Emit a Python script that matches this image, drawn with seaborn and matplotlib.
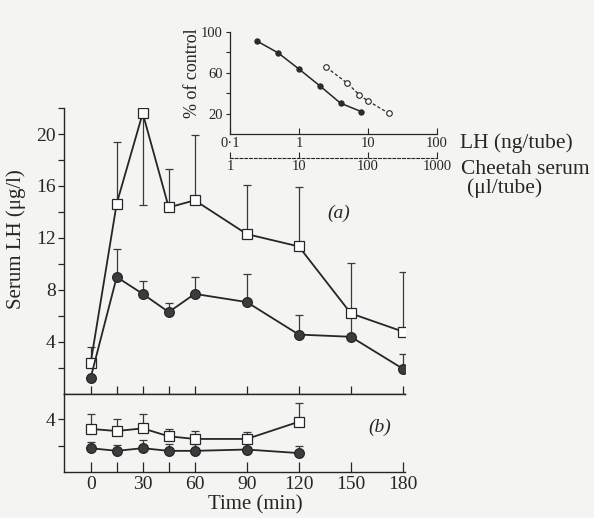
import matplotlib
matplotlib.use('Agg')
import matplotlib.pyplot as plt
import seaborn as sns
import numpy as np
import pandas as pd

''' Data read off the figure '''
# (a) main panel: serum LH (ug/l) after injection
time_a = [0, 15, 30, 45, 60, 90, 120, 150, 180]
sq_a = [2.4, 14.65, 21.6, 14.35, 14.9, 12.3, 11.35, 6.2, 4.8]
sq_a_up = [1.2, 4.75, 0.0, 2.95, 5.0, 3.75, 4.55, 3.85, 4.55]
sq_a_dn = [0, 0, 7.1, 0, 0, 0, 0, 0, 0]
ci_a = [1.25, 9.0, 7.7, 6.3, 7.7, 7.07, 4.57, 4.4, 1.94]
ci_a_up = [0.0, 2.15, 1.0, 0.7, 1.33, 2.17, 1.53, 1.6, 1.15]

# (b) lower panel
time_b = [0, 15, 30, 45, 60, 90, 120]
sq_b = [3.26, 3.1, 3.3, 2.7, 2.5, 2.5, 3.8]
sq_b_up = [1.14, 0.9, 1.1, 0.55, 0.6, 0.56, 1.45]
ci_b = [1.8, 1.6, 1.8, 1.6, 1.6, 1.7, 1.43]
ci_b_up = [0.5, 0.46, 0.6, 0.5, 0.5, 0.5, 0.57]

# inset: displacement curves (% of control)
lh_dose = [0.25, 0.5, 1, 2, 4, 8]            # ng/tube
lh_pct = [90.9, 79.5, 63.8, 47.5, 30.5, 22.3]
serum_dose = [25, 50, 75, 100, 200]          # ul/tube
serum_pct = [65.4, 50.1, 38.6, 32.7, 20.7]

time_ticks = [0, 15, 30, 45, 60, 90, 120, 150, 180]
time_labels = ['0', '', '30', '', '60', '90', '120', '150', '180']

''' Style '''
sns.set_style('ticks')
plt.rcParams['font.family'] = ['Liberation Serif', 'DejaVu Serif']
ink = '#262626'
bg = '#f4f4f2'
plt.rcParams.update({'axes.edgecolor': ink, 'xtick.color': ink, 'ytick.color': ink,
                     'text.color': ink, 'axes.labelcolor': ink,
                     'axes.facecolor': bg, 'figure.facecolor': bg})

fig = plt.figure(figsize=(5.94, 5.18), dpi=100)
ax_a = fig.add_axes([0.1077, 0.2394, 0.5741, 0.5521])
ax_b = fig.add_axes([0.1077, 0.0888, 0.5741, 0.1506], sharex=ax_a)


def draw_series(ax, t, y, up, dn, marker, face):
    ax.errorbar(t, y, yerr=[dn, up], fmt='none', ecolor='#3a3a3a',
                elinewidth=0.9, capsize=2.6, capthick=0.9, zorder=2)
    sns.lineplot(x=t, y=y, ax=ax, color=ink, lw=1.3, marker=marker, markersize=7,
                 markerfacecolor=face, markeredgecolor=ink, markeredgewidth=0.9,
                 sort=False, errorbar=None, zorder=3)


draw_series(ax_a, time_a, sq_a, sq_a_up, sq_a_dn, 's', 'white')
draw_series(ax_a, time_a, ci_a, ci_a_up, [0] * len(time_a), 'o', '#3c3c3c')
draw_series(ax_b, time_b, sq_b, sq_b_up, [0] * len(time_b), 's', 'white')
draw_series(ax_b, time_b, ci_b, ci_b_up, [0] * len(time_b), 'o', '#3c3c3c')

ax_a.set_xlim(-15.4, 181.2)
ax_a.set_ylim(0, 22)
ax_a.set_yticks([4, 8, 12, 16, 20])
ax_a.set_yticks([2, 6, 10, 14, 18, 22], minor=True)
ax_a.tick_params(axis='y', which='both', direction='out', length=4, width=0.9,
                 labelsize=14, pad=2)
ax_a.set_xticks(time_ticks)
ax_a.tick_params(axis='x', direction='in', length=6, width=0.9, labelbottom=False)
sns.despine(ax=ax_a, top=True, right=True)
ax_a.spines['bottom'].set_linewidth(1.0)
ax_a.spines['left'].set_linewidth(1.0)
ax_a.set_ylabel('Serum LH (μg/l)', fontsize=15)
ax_a.yaxis.set_label_coords(-0.11, 0.54)
ax_a.text(0.806, 0.63, '(a)', transform=ax_a.transAxes, fontsize=14,
          style='italic', ha='center', va='center')

ax_b.set_ylim(0, 5.9)
ax_b.set_yticks([2, 4])
ax_b.set_yticklabels(['', '4'])
ax_b.tick_params(axis='y', direction='out', length=4, width=0.9, labelsize=14, pad=2)
ax_b.set_xticks(time_ticks)
ax_b.set_xticklabels(time_labels)
ax_b.tick_params(axis='x', direction='in', length=7, width=0.9, labelsize=14, pad=3)
sns.despine(ax=ax_b, top=False, right=True)
for s in ['top', 'bottom', 'left']:
    ax_b.spines[s].set_linewidth(1.0)
ax_b.set_xlabel('Time (min)', fontsize=15, labelpad=0)
ax_b.xaxis.set_label_coords(0.56, -0.3)
ax_b.text(0.927, 0.57, '(b)', transform=ax_b.transAxes, fontsize=14,
          style='italic', ha='center', va='center')

''' Inset: displacement curves '''
ax_i = fig.add_axes([0.3872, 0.7404, 0.3485, 0.1979])
ax_i.set_facecolor(bg)
sns.lineplot(x=lh_dose, y=lh_pct, ax=ax_i, color=ink, lw=1.1, marker='o',
             markersize=3.8, markerfacecolor='#2c2c2c', markeredgecolor=ink,
             sort=False, errorbar=None)
sns.lineplot(x=[d / 10 for d in serum_dose], y=serum_pct, ax=ax_i, color=ink,
             lw=0.9, ls=(0, (2.5, 1.8)), marker='o', markersize=4,
             markerfacecolor='white', markeredgecolor=ink, markeredgewidth=0.8,
             sort=False, errorbar=None)
ax_i.set_xscale('log')
ax_i.set_xlim(0.1, 100)
ax_i.set_ylim(0, 100)
ax_i.set_xticks([0.1, 1, 10, 100])
ax_i.set_xticklabels(['0·1', '1', '10', '100'])
ax_i.xaxis.set_minor_locator(matplotlib.ticker.NullLocator())
ax_i.set_yticks([20, 60, 100])
ax_i.set_yticks([40, 80], minor=True)
ax_i.tick_params(axis='x', direction='in', length=4, width=0.8, labelsize=10.5, pad=2)
ax_i.tick_params(axis='y', which='both', direction='out', length=3, width=0.8,
                 labelsize=10.5, pad=2)
sns.despine(ax=ax_i, top=True, right=True)
ax_i.spines['bottom'].set_linewidth(0.9)
ax_i.spines['left'].set_linewidth(0.9)
ax_i.set_ylabel('% of control', fontsize=13)
ax_i.yaxis.set_label_coords(-0.14, 0.6)

sec = ax_i.secondary_xaxis(-0.226, functions=(lambda x: x * 10, lambda x: x / 10))
sec.set_xticks([1, 10, 100, 1000])
sec.set_xticklabels(['1', '10', '100', '1000'])
sec.xaxis.set_minor_locator(matplotlib.ticker.NullLocator())
sec.tick_params(axis='x', direction='in', length=4, width=0.8, labelsize=10.5, pad=2)
sec.spines['bottom'].set_linestyle((0, (2.5, 1.8)))
sec.spines['bottom'].set_linewidth(0.8)

fig.text(460 / 594, 1 - 143 / 518, 'LH (ng/tube)', fontsize=15.5, va='center', ha='left')
fig.text(461 / 594, 1 - 169 / 518, 'Cheetah serum', fontsize=15.5, va='center', ha='left')
fig.text(467 / 594, 1 - 188 / 518, '(μl/tube)', fontsize=15.5, va='center', ha='left')

plt.savefig('out.png', dpi=100, facecolor=bg)
